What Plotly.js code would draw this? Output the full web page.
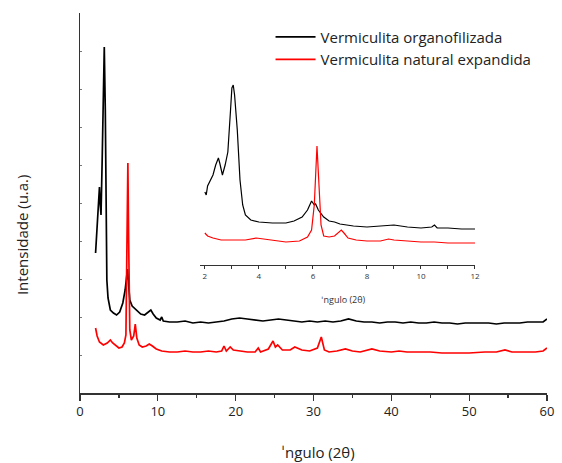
<!DOCTYPE html>
<html><head><meta charset="utf-8">
<script src="https://cdn.plot.ly/plotly-3.0.1.min.js"></script>
<style>html,body{margin:0;padding:0;background:#fff}#chart{width:562px;height:463px}</style>
</head><body><div id="chart"></div>
<script>
// Main chart: 2θ (degrees) and intensity (arbitrary units)
const orgX = [2.0,2.2,2.4,2.5,2.6,2.7,2.85,3.0,3.12,3.25,3.35,3.45,3.6,3.9,4.3,4.7,5.1,5.5,5.8,6.0,6.1,6.25,6.4,6.7,7.0,7.3,7.8,8.3,8.8,9.1,9.4,9.8,10.3,10.5,10.7,11.5,12.5,13.5,14.5,15.5,16.5,17.5,18.5,19.5,20.5,21.5,22.5,23.5,24.5,25.5,26.5,27.5,28.5,29.5,30.5,31.5,32.5,33.5,34.5,35.5,36.5,37.5,38.5,39.5,40.5,41.5,42.5,43.5,44.5,45.5,46.5,47.5,48.5,49.5,50.5,51.5,52.5,53.5,54.5,55.5,56.5,57.5,58.5,59.5,60.0];
const orgY = [140,168,193,206,188,178,233,323,346,283,173,113,95,83,80,78,81,90,103,121,124,108,93,87,85,83,79,78,81,83,79,75,73,76,72,71,71,72,70,71,70,71,72,74,75,74,73,72,73,74,73,72,71,72,71,72,71,72,74,72,71,71,70,71,71,70,71,70,70,71,70,70,69,70,70,70,70,69,70,70,70,71,71,71,74];
const natX = [2.0,2.2,2.5,3.0,3.5,3.9,4.2,4.6,5.0,5.4,5.7,5.9,6.05,6.15,6.25,6.4,6.6,6.9,7.1,7.3,7.6,8.0,8.5,8.9,9.3,9.8,10.5,11.5,12.5,13.5,14.5,15.5,16.5,17.5,18.2,18.5,18.8,19.3,19.7,20.5,21.5,22.5,22.9,23.2,24.2,24.8,25.1,25.4,26.0,27.0,27.6,28.5,29.5,30.5,31.0,31.4,32.0,33.0,34.1,35.0,36.0,37.5,38.5,40.0,41.0,42.0,43.5,45.0,46.5,48.0,50.0,52.0,53.5,54.6,55.5,57.0,58.5,59.5,60.0];
const natY = [65,57,51,48,50,53,50,47,45,46,50,58,143,230,153,63,53,57,69,55,48,46,47,49,47,44,42,41,41,42,41,41,42,41,42,47,42,46,43,42,41,41,45,41,44,52,46,48,43,43,46,43,42,45,56,43,41,42,44,42,41,44,42,41,42,41,41,41,40,40,40,41,41,43,41,41,41,42,45];
// Inset: 2θ from 2 to 12
const insOrgX = [2.0,2.05,2.1,2.2,2.3,2.4,2.5,2.55,2.65,2.75,2.85,2.95,3.0,3.05,3.1,3.2,3.3,3.4,3.5,3.7,4.0,4.5,5.0,5.3,5.6,5.8,5.9,5.95,6.05,6.1,6.2,6.4,6.6,6.8,7.0,7.5,8.0,8.5,9.0,9.5,10.0,10.4,10.5,10.6,11.0,11.5,12.0];
const insOrgY = [73,70,79,85,90,100,107,102,90,100,113,155,177,180,170,135,85,60,50,45,43,42,42,44,48,55,60,64,60,61,55,48,44,43,41,39,38,39,40,38,37,38,40,37,37,36,36];
const insNatX = [2.0,2.1,2.3,2.6,3.0,3.5,3.9,4.2,4.6,5.0,5.5,5.8,5.95,6.05,6.15,6.22,6.3,6.4,6.6,6.8,7.0,7.05,7.15,7.3,7.6,8.0,8.5,8.8,9.0,9.5,10.0,10.5,11.0,11.5,12.0];
const insNatY = [32,29,27,25,25,25,27,26,24,23,24,28,35,60,119,85,40,29,28,29,34,35,32,27,25,24,24,26,25,24,23,23,22,22,22];
const names = ['Vermiculita organofilizada','Vermiculita natural expandida'];
const mainTicks = [0,10,20,30,40,50,60];
const insetTicks = [2,3,4,5,6,7,8,9,10,11,12];
const insetTickText = ['2','','4','','6','','8','','10','','12'];

const font = 'Open Sans, DejaVu Sans, sans-serif';
const traces = [
  {x: orgX, y: orgY, name: names[0], type:'scatter', mode:'lines', line:{color:'#000', width:1.7}, xaxis:'x', yaxis:'y'},
  {x: natX, y: natY, name: names[1], type:'scatter', mode:'lines', line:{color:'#ff0000', width:1.7}, xaxis:'x', yaxis:'y'},
  {x: insOrgX, y: insOrgY, showlegend:false, type:'scatter', mode:'lines', line:{color:'#000', width:1.2}, xaxis:'x2', yaxis:'y2'},
  {x: insNatX, y: insNatY, showlegend:false, type:'scatter', mode:'lines', line:{color:'#ff0000', width:1.2}, xaxis:'x2', yaxis:'y2'}
];
const layout = {
  width:562, height:463,
  margin:{l:80, r:15, t:13, b:70},
  paper_bgcolor:'#fff', plot_bgcolor:'rgba(0,0,0,0)',
  showlegend:true,
  legend:{x:0.408, y:0.98, xanchor:'left', yanchor:'top', bgcolor:'rgba(0,0,0,0)', font:{family:font, size:15, color:'#222'}, tracegroupgap:0, itemwidth:40},
  xaxis:{domain:[0,1], range:[0,60], tickvals:mainTicks, ticks:'outside', ticklen:6, tickwidth:1.3, tickcolor:'#333',
    minor:{dtick:5, tick0:0, ticks:'outside', ticklen:3, tickcolor:'#333', showgrid:false},
    showline:true, linecolor:'#333', linewidth:1.5, showgrid:false, zeroline:false,
    tickfont:{family:font, size:13, color:'#222'}},
  yaxis:{domain:[0,1], range:[0,380], tickvals:[38,76,114,152,190,228,266,304,342,380], ticks:'inside', ticklen:1.5, tickcolor:'#777',
    showticklabels:false, showline:true, linecolor:'#333', linewidth:1.5, showgrid:false, zeroline:false},
  xaxis2:{domain:[0.257,0.8458], anchor:'y2', range:[1.82,12], tickvals:insetTicks, ticktext:insetTickText, ticks:'outside', ticklen:3, tickcolor:'#333',
    showline:true, linecolor:'#333', linewidth:1, showgrid:false, zeroline:false, tickfont:{family:font, size:8, color:'#333'}},
  yaxis2:{domain:[0.3368,0.8237], anchor:'x2', range:[0,185], visible:false},
  annotations:[
    {text:'Intensidade (u.a.)', xref:'paper', yref:'paper', x:-0.124, y:(393-235)/380, textangle:-90, showarrow:false,
      xanchor:'center', yanchor:'middle', font:{family:font, size:15, color:'#222'}},
    {text:'ˈngulo (2θ)', xref:'paper', yref:'paper', x:(318-80)/467, y:(393-452)/380, showarrow:false,
      xanchor:'center', yanchor:'middle', font:{family:font, size:15, color:'#222'}},
    {text:'ˈngulo (2θ)', xref:'paper', yref:'paper', x:(343-80)/467, y:(393-299)/380, showarrow:false,
      xanchor:'center', yanchor:'middle', font:{family:font, size:9, color:'#333'}}
  ]
};
Plotly.newPlot('chart', traces, layout, {displayModeBar:false, staticPlot:true});
</script></body></html>
